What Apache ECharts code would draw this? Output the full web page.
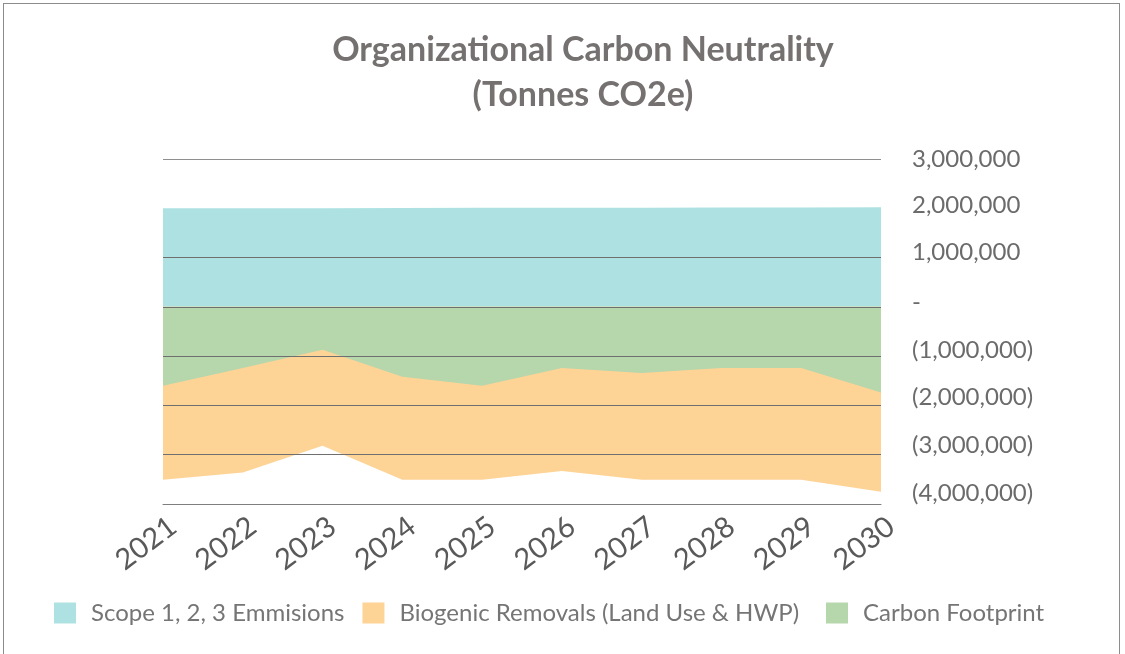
<!DOCTYPE html>
<html>
<head>
<meta charset="utf-8">
<script src="https://cdn.jsdelivr.net/npm/echarts@6/dist/echarts.min.js"></script>
<style>
html,body{margin:0;padding:0;background:#fff;}
#frame{position:absolute;left:3px;top:3px;width:1117px;height:660px;border:1px solid #8c8c8c;box-sizing:border-box;}
#chart{position:absolute;left:0;top:0;width:1125px;height:654px;}
</style>
</head>
<body>
<div id="frame"></div>
<div id="chart"></div>
<script>
const years = ['2021','2022','2023','2024','2025','2026','2027','2028','2029','2030'];
const scopeEmissions = [2000000, 2000000, 2000000, 2005000, 2010000, 2010000, 2012000, 2015000, 2018000, 2020000];
const biogenicRemovals = [-3510000, -3360000, -2820000, -3510000, -3510000, -3330000, -3510000, -3510000, -3510000, -3750000];
const carbonFootprint = [-1600000, -1240000, -870000, -1420000, -1600000, -1240000, -1340000, -1240000, -1240000, -1740000];
const seriesNames = ['Scope 1, 2, 3 Emmisions', 'Biogenic Removals (Land Use & HWP)', 'Carbon Footprint'];
const seriesColors = ['#AEE2E2', '#FED396', '#B6D6AC'];

const chart = echarts.init(document.getElementById('chart'));
function fmt(v){
  if (v === 0) return '-';
  const s = Math.abs(v).toLocaleString('en-US');
  return v < 0 ? '(' + s + ')' : s;
}
// small upward drift of the right-hand labels, as in the reference
const labelLift = [0, 3, 5, 5, 6, 8, 9, 11];
const rich = {};
labelLift.forEach((p, k) => {
  rich['r' + k] = {fontFamily: 'Lato', fontSize: 24, color: '#6b6b6b', padding: [0, 0, 2 * p, 0]};
});
const legendText = {fontFamily: 'Lato', fontSize: 24, color: '#757575', padding: [0,0,0,10]};
const dataSets = [scopeEmissions, biogenicRemovals, carbonFootprint];
chart.setOption({
  animation: false,
  title: {
    text: 'Organizational Carbon Neutrality\n(Tonnes CO2e)',
    left: 578, top: 23, textAlign: 'center',
    textStyle: {fontFamily: 'Lato', fontWeight: 'bold', fontSize: 34, lineHeight: 45, color: '#767171'}
  },
  legend: [
    {left: 49, top: 596, itemWidth: 22, itemHeight: 21, itemGap: 18, icon: 'rect',
     textStyle: legendText, data: seriesNames.slice(0, 2)},
    {left: 821, top: 596, itemWidth: 22, itemHeight: 21, itemGap: 20, icon: 'rect',
     textStyle: legendText, data: seriesNames.slice(2)}
  ],
  grid: {left: 163, right: 244, top: 159, bottom: 150},
  xAxis: {
    type: 'category', data: years, boundaryGap: false,
    axisLine: {onZero: false, lineStyle: {color: '#7f7f7f', width: 1}},
    axisTick: {show: false},
    axisLabel: {rotate: 37, align: 'right', verticalAlign: 'top', padding: [2,0,0,0],
      fontFamily: 'Lato', fontSize: 29, color: '#595959', margin: 6}
  },
  yAxis: {
    type: 'value', position: 'right', min: -4000000, max: 3000000, interval: 1000000,
    z: 5,
    axisLine: {show: false}, axisTick: {show: false},
    axisLabel: {
      fontFamily: 'Lato', fontSize: 24, color: '#6b6b6b', margin: 31,
      formatter: v => '{r' + Math.round((3000000 - v) / 1000000) + '|' + fmt(v) + '}',
      rich: rich
    },
    splitLine: {lineStyle: {color: ['transparent','#6f6f6f','#6f6f6f','#6f6f6f','#6f6f6f','#6f6f6f','transparent','#8f8f8f'], width: 1}}
  },
  series: dataSets.map((d, i) => ({
    name: seriesNames[i], type: 'line', data: d, symbol: 'none',
    lineStyle: {width: 0}, itemStyle: {color: seriesColors[i]},
    areaStyle: {color: seriesColors[i], opacity: 1, origin: 0},
    z: 1
  }))
});
</script>
</body>
</html>
